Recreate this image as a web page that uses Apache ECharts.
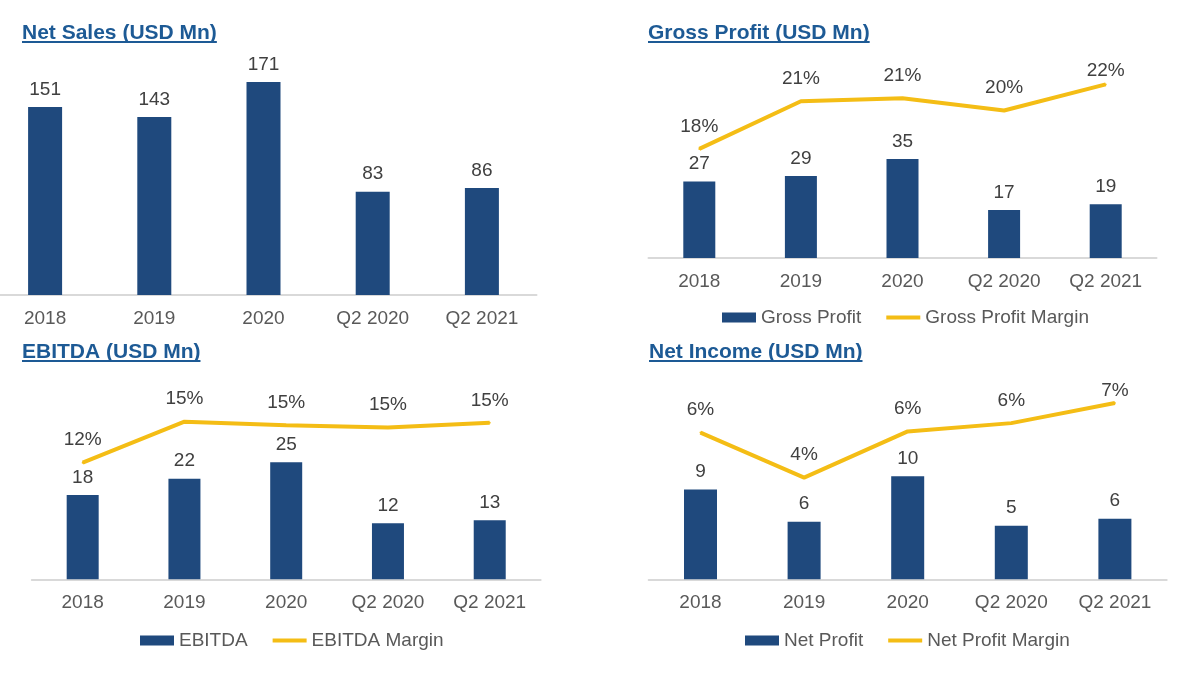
<!DOCTYPE html>
<html>
<head>
<meta charset="utf-8">
<script src="https://cdn.jsdelivr.net/npm/echarts@6/dist/echarts.min.js"></script>
<style>
  html, body { margin: 0; padding: 0; background: #ffffff; }
  #chart { width: 1200px; height: 682px; }
</style>
</head>
<body>
<div id="chart"></div>
<script>
// ---- Data ----
const categories = ['2018', '2019', '2020', 'Q2 2020', 'Q2 2021'];
const netSales = [151, 143, 171, 83, 86];
const grossProfit = [27, 29, 35, 17, 19];
const grossMargin = [17.9, 21.0, 21.2, 20.4, 22.1];
const ebitda = [18.0, 21.5, 25.0, 12.0, 12.6];
const ebitdaMargin = [11.9, 15.4, 15.1, 14.9, 15.3];
const netProfit = [8.9, 5.7, 10.2, 5.3, 6.0];
const netMargin = [5.9, 4.0, 5.95, 6.3, 7.15];
const titles = ['Net Sales (USD Mn)', 'Gross Profit (USD Mn)', 'EBITDA (USD Mn)', 'Net Income (USD Mn)'];
const seriesNames = ['Net Sales', 'Gross Profit', 'Gross Profit Margin', 'EBITDA', 'EBITDA Margin', 'Net Profit', 'Net Profit Margin'];

// ---- Style ----
const BLUE = '#1F497D';
const GOLD = '#F4BD15';
const TITLE = '#1D5A95';
const TXT = '#404040';
const AX = '#595959';
const FONT = 'Arial, "Liberation Sans", sans-serif';
const FS = 19;
const LINE_ICON = 'path://M0,0H34V4H0Z';

const chart = echarts.init(document.getElementById('chart'), null, { renderer: 'canvas' });

// Measure title widths for underline
const mctx = document.createElement('canvas').getContext('2d');
mctx.font = 'bold 21px ' + FONT;
const titlePos = [[22, 33], [648, 33], [22, 352], [649, 352]];
const graphics = [];
titles.forEach((t, i) => {
  const w = mctx.measureText(t).width;
  const [x, y] = titlePos[i];
  graphics.push({
    type: 'text', left: x, top: y - 10,
    style: { text: t, fill: TITLE, font: 'bold 21px ' + FONT }
  });
  graphics.push({
    type: 'rect', shape: { x: x, y: y + 8, width: w, height: 2 },
    style: { fill: TITLE }
  });
});

const grids = [
  { left: -9.5, width: 546, top: 50, height: 245 },
  { left: 648.5, width: 508, top: 50, height: 208 },
  { left: 31.8, width: 508.8, top: 380, height: 199.3 },
  { left: 648.7, width: 518, top: 380, height: 199.3 }
].map(g => Object.assign({ outerBoundsMode: 'none', containLabel: false }, g));

const xAxes = grids.map((g, i) => ({
  type: 'category', gridIndex: i, data: categories,
  axisLine: { lineStyle: { color: '#D9D9D9', width: 2 } },
  axisTick: { show: false },
  axisLabel: { color: AX, fontSize: FS, fontFamily: FONT, margin: 14, interval: 0 }
}));

const yAxes = [
  { gridIndex: 0, min: 0, max: 196.8 },
  { gridIndex: 1, min: 0, max: 73.5 },
  { gridIndex: 1, min: 10.8, max: 24.34 },
  { gridIndex: 2, min: 0, max: 42.6 },
  { gridIndex: 2, min: 1.94, max: 18.96 },
  { gridIndex: 3, min: 0, max: 19.73 },
  { gridIndex: 3, min: -0.29, max: 8.12 }
].map(a => Object.assign({ type: 'value', show: false, splitLine: { show: false } }, a));

function bar(name, data, xi, yi, w) {
  return {
    name, type: 'bar', data, xAxisIndex: xi, yAxisIndex: yi, barWidth: w,
    itemStyle: { color: BLUE },
    label: { show: true, position: 'top', distance: 8, color: TXT, fontSize: FS, fontFamily: FONT,
      formatter: p => String(Math.round(p.value)) }
  };
}
// lastDy: labels near the top edge of the plot sit closer to the line (as in the source slide)
function line(name, data, xi, yi, lastDy) {
  return {
    name, type: 'line', data, xAxisIndex: xi, yAxisIndex: yi,
    symbol: 'circle', symbolSize: 2, showSymbol: true, smooth: false,
    lineStyle: { color: GOLD, width: 4 }, itemStyle: { color: GOLD },
    label: { show: true, position: 'top', distance: 12, color: TXT, fontSize: FS, fontFamily: FONT,
      formatter: p => Math.round(p.value) + '%' },
    labelLayout: p => (p.dataIndex === data.length - 1 && lastDy) ? { dy: lastDy } : {}
  };
}

const legendBase = {
  orient: 'horizontal', itemWidth: 34, itemHeight: 10, itemGap: 25,
  textStyle: { color: AX, fontSize: FS, fontFamily: FONT }, padding: 0, selectedMode: false
};

const option = {
  animation: false,
  backgroundColor: '#ffffff',
  graphic: graphics,
  grid: grids,
  xAxis: xAxes,
  yAxis: yAxes,
  legend: [
    Object.assign({}, legendBase, { left: 722, top: 308, data: [{ name: seriesNames[1], icon: 'rect' }, { name: seriesNames[2], icon: LINE_ICON }] }),
    Object.assign({}, legendBase, { left: 140, top: 631, data: [{ name: seriesNames[3], icon: 'rect' }, { name: seriesNames[4], icon: LINE_ICON }] }),
    Object.assign({}, legendBase, { left: 745, top: 631, data: [{ name: seriesNames[5], icon: 'rect' }, { name: seriesNames[6], icon: LINE_ICON }] })
  ],
  series: [
    bar(seriesNames[0], netSales, 0, 0, 34),
    bar(seriesNames[1], grossProfit, 1, 1, 32),
    line(seriesNames[2], grossMargin, 1, 2, 9),
    bar(seriesNames[3], ebitda, 2, 3, 32),
    line(seriesNames[4], ebitdaMargin, 2, 4, 0),
    bar(seriesNames[5], netProfit, 3, 5, 33),
    line(seriesNames[6], netMargin, 3, 6, 10)
  ]
};
chart.setOption(option);
</script>
</body>
</html>
